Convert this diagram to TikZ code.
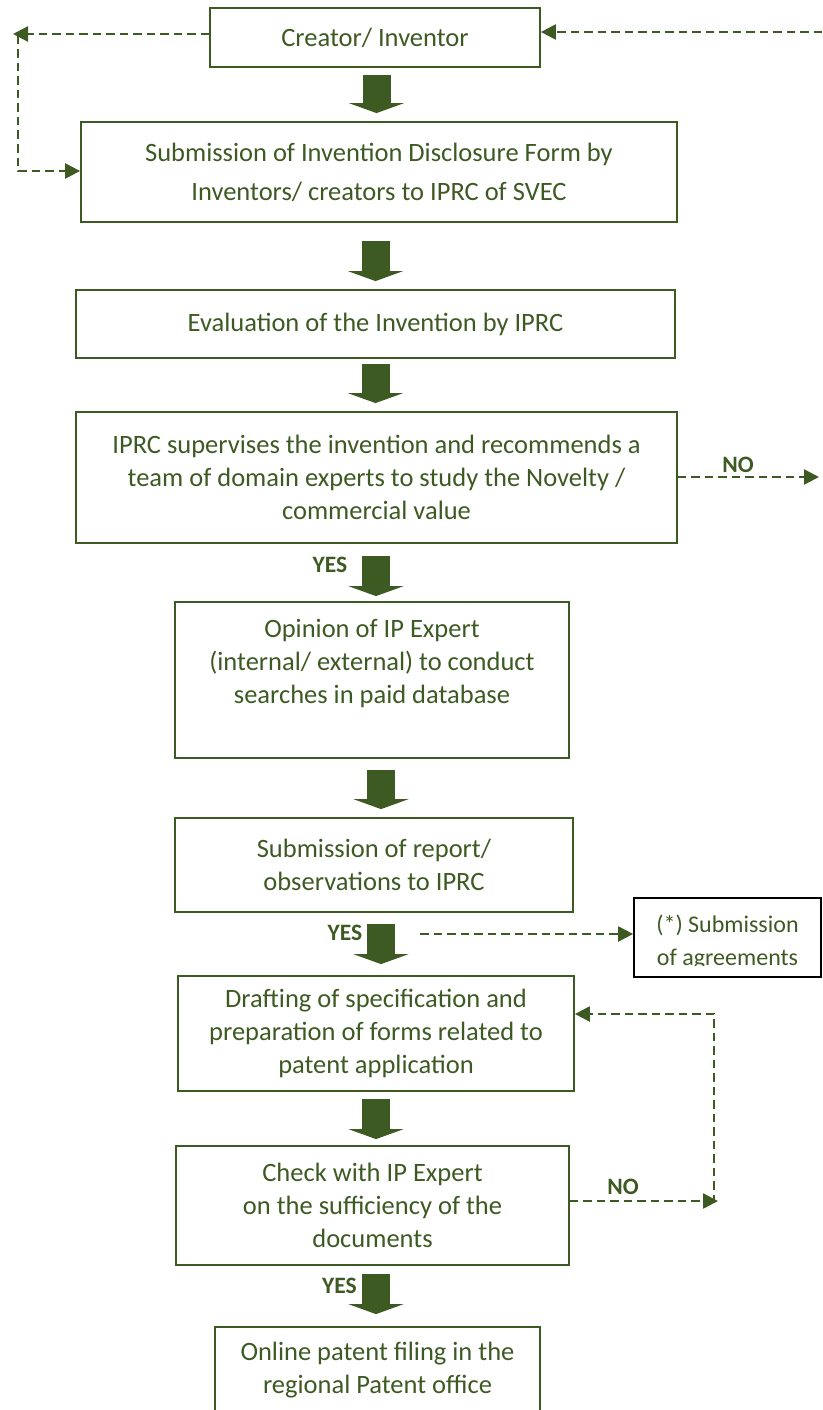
\documentclass[tikz,border=0pt]{standalone}
\usepackage{fontspec}
\setmainfont{Carlito}
\usetikzlibrary{arrows.meta,calc}
\definecolor{dg}{RGB}{61,90,35}
\begin{document}
\begin{tikzpicture}[x=1pt,y=-1pt,
  box/.style={draw=dg, line width=1.8pt, text=dg, align=center, inner sep=0pt,
    font=\fontsize{26.5}{33}\selectfont},
  bigarrow/.style={draw=dg, line width=28pt, -{Triangle[length=10pt,width=55pt]}},
  dashconn/.style={draw=dg, line width=2.4pt, dash pattern=on 8.5pt off 5pt,
    -{Triangle[length=15pt,width=15pt]}},
  decision/.style={text=dg, inner sep=0pt, font=\bfseries\fontsize{23.5}{27}\selectfont}]
\clip (0,0) rectangle (822,1410);
% boxes
\node[box, minimum width=330pt, minimum height=59pt] (b1) at (375,37.5) {Creator/ Inventor};
\node[box, minimum width=596pt, minimum height=100pt, font=\fontsize{26.5}{39}\selectfont] (b2) at (379,172)
  {Submission of Invention Disclosure Form by\\Inventors/ creators to IPRC of SVEC};
\node[box, minimum width=599pt, minimum height=68pt] (b3) at (375.5,324) {Evaluation of the Invention by IPRC};
\node[box, minimum width=601pt, minimum height=131pt] (b4) at (376.5,477.5)
  {IPRC supervises the invention and recommends a\\team of domain experts to study the Novelty /\\commercial value};
\node[box, minimum width=394pt, minimum height=156pt] (b5) at (372,680)
  {Opinion of IP Expert\\(internal/ external) to conduct\\searches in paid database\\[4pt]\mbox{}};
\node[box, minimum width=398pt, minimum height=94pt] (b6) at (374,865)
  {Submission of report/\\observations to IPRC};
\node[box, draw=black, minimum width=187pt, minimum height=79pt] (b7) at (727.5,937.5) {};
\begin{scope}
  \clip ([yshift=-1pt]b7.north west) rectangle ([yshift=12pt]b7.south east);
  \node[text=dg, align=center, inner sep=0pt, font=\fontsize{24}{33}\selectfont] (b7t) at (727.5,942)
    {(*) Submission\\of agreements};
\end{scope}
\node[box, minimum width=396pt, minimum height=115pt] (b8) at (376,1033.5)
  {Drafting of specification and\\preparation of forms related to\\patent application};
\node[box, minimum width=393pt, minimum height=119pt] (b9) at (372.5,1205.5)
  {Check with IP Expert\\on the sufficiency of the\\documents};
\node[box, minimum width=325pt, minimum height=86pt] (b10) at (377.5,1370)
  {Online patent filing in the\\regional Patent office};
% block arrows
\draw[bigarrow] ([xshift=1.5pt,yshift=-7pt]b1.south) -- ([xshift=-2.5pt,yshift=8pt]b2.north);
\draw[bigarrow] ([xshift=-3.5pt,yshift=-18pt]b2.south) -- ([xshift=0pt,yshift=8pt]b3.north);
\draw[bigarrow] ([xshift=0pt,yshift=-5pt]b3.south) -- ([xshift=-1pt,yshift=8pt]b4.north);
\draw[bigarrow] ([xshift=-0.5pt,yshift=-12pt]b4.south) -- ([xshift=4pt,yshift=5pt]b5.north);
\draw[bigarrow] ([xshift=9pt,yshift=-11pt]b5.south) -- ([xshift=7pt,yshift=8pt]b6.north);
\draw[bigarrow] ([xshift=7pt,yshift=-11pt]b6.south) -- ([xshift=5pt,yshift=11pt]b8.north);
\draw[bigarrow] ([xshift=0pt,yshift=-7pt]b8.south) -- ([xshift=3.5pt,yshift=6pt]b9.north);
\draw[bigarrow] ([xshift=3.5pt,yshift=-8pt]b9.south) -- ([xshift=-1.5pt,yshift=12pt]b10.north);
% decision labels
\node[decision] (yes1) at (330,565) {YES};
\node[decision] (yes2) at (345,933) {YES};
\node[decision] (yes3) at (339.5,1286) {YES};
\node[decision] (no1) at (738,465) {NO};
\node[decision] (no2) at (623,1187) {NO};
% dashed connectors
\coordinate (lt) at (13,34);
\coordinate (lc) at (18,36);
\coordinate (rt) at (822,32);
\coordinate (noend1) at (819,477);
\coordinate (ag) at (420,934);
\coordinate (noend2) at (718,1201);
\coordinate (rc) at (714,1203);
\draw[dashconn] ([yshift=3.5pt]b1.west) -- (lt);
\draw[dashconn] (lc) |- ([yshift=1pt]b2.west);
\draw[dashconn] (rt) -- ([yshift=5.5pt]b1.east);
\draw[dashconn] ([yshift=0.5pt]b4.east) -- (noend1);
\draw[dashconn] (ag) -- ([yshift=3.5pt]b7.west);
\draw[dashconn] ([yshift=4.5pt]b9.east) -- (noend2);
\draw[dashconn] (rc) |- ([yshift=19.5pt]b8.east);
\end{tikzpicture}
\end{document}
